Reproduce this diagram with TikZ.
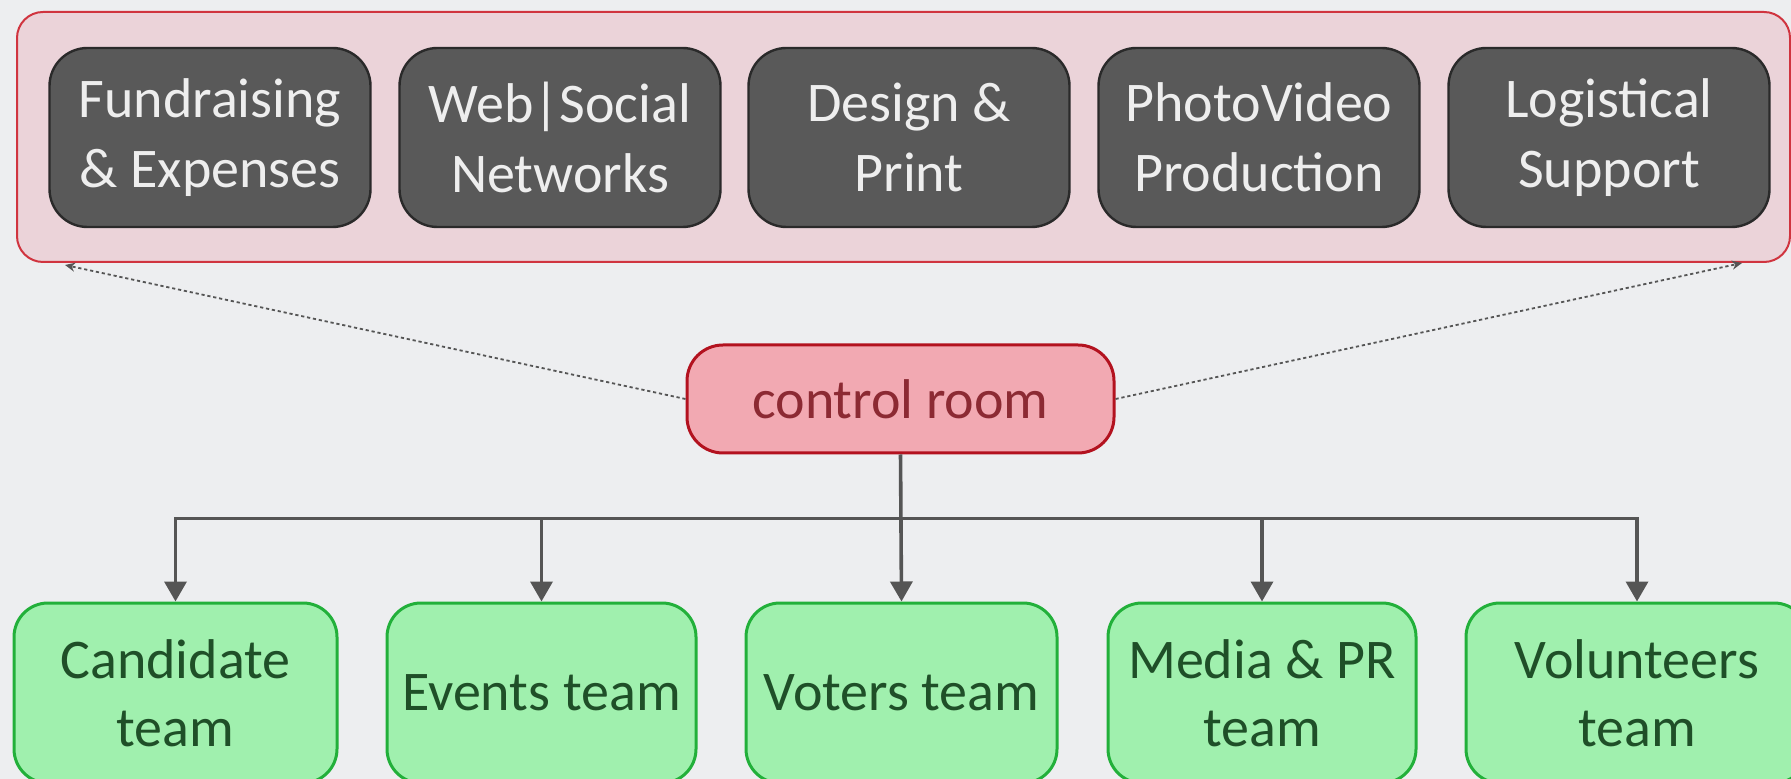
\documentclass[tikz,border=0pt]{standalone}
\usepackage{fontspec}
\setmainfont{Carlito}
\usetikzlibrary{arrows.meta}
\definecolor{bg}{HTML}{EDEEF0}
\definecolor{grpfill}{HTML}{EBD3D9}
\definecolor{grpedge}{HTML}{D0343F}
\definecolor{greyfill}{HTML}{595959}
\definecolor{greyedge}{HTML}{2A2A2A}
\definecolor{greytext}{HTML}{EEEEEE}
\definecolor{crfill}{HTML}{F2A9B2}
\definecolor{credge}{HTML}{B3121F}
\definecolor{crtext}{HTML}{8C2A33}
\definecolor{gfill}{HTML}{A0F0AE}
\definecolor{gedge}{HTML}{22B03A}
\definecolor{gtext}{HTML}{1F4F28}
\definecolor{conncol}{HTML}{555555}
\tikzset{
  groupbox/.style={draw=grpedge, fill=grpfill, line width=1pt, rounded corners=13pt, inner sep=0pt},
  greybox/.style={draw=greyedge, fill=greyfill, line width=1.2pt, rounded corners=19pt, text=greytext,
    align=center, font=\fontsize{28}{35}\selectfont, minimum width=160.5pt, minimum height=89.5pt, inner sep=0pt},
  ctrlbox/.style={draw=credge, fill=crfill, line width=1.5pt, rounded corners=18pt, text=crtext,
    align=center, font=\fontsize{28}{34}\selectfont, minimum width=213.5pt, minimum height=54pt, inner sep=0pt},
  teambox/.style={draw=gedge, fill=gfill, line width=1.5pt, rounded corners=17pt, text=gtext,
    align=center, font=\fontsize{28}{34}\selectfont, minimum height=90pt, inner sep=0pt},
  conn/.style={draw=conncol, line width=1.8pt, -{Triangle[length=10pt,width=11pt]}},
  dots/.style={draw=conncol, line width=0.9pt, dash pattern=on 1.6pt off 1.4pt, -{Stealth[length=5pt,width=4.5pt]}}
}
\begin{document}
\begin{tikzpicture}[x=0.5pt,y=-0.5pt]
\useasboundingbox (0,0) rectangle (1791,779);
\fill[bg] (0,0) rectangle (1791,779);
\begin{scope}
\clip (0,0) rectangle (1791,779);
\node[groupbox, minimum width=886.5pt, minimum height=125pt] (group) at (903.5,137) {};
\node[greybox] (fund) at (210,137.5) {Fundraising\\\& Expenses};
\node[greybox] (web) at (560,137.5) {Web|Social\\Networks};
\node[greybox] (design) at (909,137.5) {Design \&\\Print};
\node[greybox] (photo) at (1259,137.5) {PhotoVideo\\Production};
\node[greybox] (logis) at (1609,137.5) {Logistical\\Support};

\node[ctrlbox] (cr) at (900.5,399) {control room};

\node[teambox, minimum width=161.5pt] (cand) at (175.5,693) {Candidate\\team};
\node[teambox, minimum width=154.5pt] (events) at (541.5,693) {Events team};
\node[teambox, minimum width=155.5pt] (voters) at (901.5,693) {Voters team};
\node[teambox, minimum width=154pt] (media) at (1262,693) {Media \& PR\\team};
\node[teambox, minimum width=171pt] (vol) at (1637,693) {Volunteers\\team};

\coordinate (tl) at (65,265);
\coordinate (tr) at (1742,263);
\draw[dots] (cr.west) -- (tl);
\draw[dots] (cr.east) -- (tr);

\path (cr.south) ++(0,64) coordinate (bus);
\draw[conn] (cr.south) -- (voters.north);
\draw[conn] (bus) -| (cand.north);
\draw[conn] (bus) -| (events.north);
\draw[conn] (bus) -| (media.north);
\draw[conn] (bus) -| (vol.north);
\end{scope}
\end{tikzpicture}
\end{document}
